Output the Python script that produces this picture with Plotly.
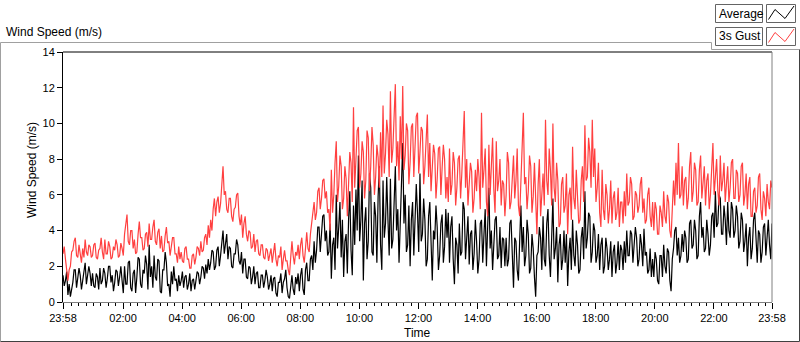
import plotly.graph_objects as go
import pandas as pd

# ---------------- data (2.5-minute samples) ----------------
start_time = "2024-01-01 23:58"
step = "150s"

average = [
    1.5, 0.9, 1.2, 1.7, 0.4, 1.0, 0.3, 0.7, 1.1, 1.8, 1.8, 0.8, 1.3, 1.9, 1.5, 0.7, 1.2, 1.8, 2.2, 1.0, 1.4, 2.0, 1.6, 0.9,
    1.6, 0.9, 0.8, 1.6, 1.4, 0.7, 1.9, 1.0, 1.2, 1.9, 1.6, 0.8, 1.3, 2.0, 2.0, 1.1, 1.5, 0.6, 1.1, 1.8, 1.7, 0.9, 1.4, 2.0,
    1.2, 0.5, 2.0, 1.0, 1.0, 2.2, 2.3, 0.8, 0.6, 1.6, 1.8, 0.5, 1.4, 2.5, 2.4, 1.0, 0.8, 1.8, 1.6, 2.6, 2.1, 0.7, 3.2, 1.4,
    2.0, 0.8, 2.6, 1.4, 1.2, 2.4, 2.3, 0.6, 0.5, 1.8, 1.8, 2.8, 2.2, 0.9, 1.0, 0.3, 1.7, 1.0, 2.0, 1.2, 1.3, 0.6, 1.5, 0.9,
    1.2, 1.7, 0.8, 1.4, 1.5, 0.7, 1.0, 1.6, 0.6, 1.2, 1.3, 0.7, 1.2, 1.7, 1.6, 1.0, 1.4, 2.0, 1.9, 1.3, 2.1, 1.6, 2.4, 1.8,
    2.2, 2.9, 2.8, 1.8, 2.0, 2.9, 3.1, 2.0, 2.6, 3.6, 4.0, 2.7, 3.3, 3.8, 2.4, 3.1, 3.0, 2.0, 1.9, 2.7, 2.7, 3.5, 3.2, 2.3,
    2.1, 2.8, 1.6, 2.4, 2.4, 1.4, 1.3, 2.0, 1.9, 1.0, 1.4, 2.0, 1.0, 1.6, 1.7, 0.8, 0.8, 1.5, 1.5, 0.8, 1.2, 1.8, 1.4, 0.7,
    1.0, 1.5, 0.6, 1.3, 1.4, 0.5, 0.3, 1.1, 1.1, 1.6, 0.5, 1.1, 1.3, 1.8, 0.8, 0.3, 0.2, 1.1, 1.5, 0.7, 0.4, 1.4, 1.0, 1.6,
    0.6, 1.5, 1.9, 0.7, 0.4, 1.8, 2.2, 1.2, 1.2, 2.4, 2.6, 1.8, 3.4, 2.2, 2.9, 4.2, 4.2, 2.8, 3.6, 4.8, 4.9, 3.4, 4.0, 2.6,
    2.8, 4.4, 1.3, 3.2, 3.6, 1.8, 6.0, 3.0, 4.2, 5.6, 2.5, 4.6, 1.4, 3.4, 3.8, 1.6, 4.6, 6.2, 2.9, 1.5, 5.4, 3.2, 6.3, 4.0,
    8.2, 3.4, 4.6, 6.8, 1.2, 4.4, 5.3, 2.4, 3.4, 7.2, 6.4, 2.8, 2.6, 5.6, 4.8, 2.2, 5.9, 7.6, 3.2, 1.8, 6.8, 3.6, 4.4, 7.0,
    4.6, 2.6, 6.9, 3.0, 3.5, 5.8, 7.6, 4.0, 5.2, 2.2, 4.1, 6.4, 8.9, 4.4, 6.0, 2.8, 3.2, 5.4, 2.0, 4.6, 5.6, 2.6, 4.3, 6.6,
    5.0, 2.8, 7.2, 3.4, 3.8, 5.8, 4.6, 2.0, 2.4, 4.8, 5.6, 2.6, 1.2, 4.0, 3.5, 5.4, 4.2, 1.8, 2.6, 4.4, 4.9, 2.2, 3.1, 5.2,
    3.6, 5.0, 2.2, 4.2, 4.8, 2.4, 1.0, 3.6, 3.2, 1.6, 4.4, 2.6, 2.8, 5.6, 5.2, 2.4, 3.6, 4.8, 2.1, 3.8, 4.0, 1.8, 2.7, 4.6,
    3.4, 1.6, 2.4, 4.4, 4.6, 2.2, 3.8, 5.2, 2.0, 4.0, 6.4, 3.0, 4.0, 1.8, 3.0, 4.6, 4.8, 2.4, 2.6, 4.2, 1.9, 3.6, 3.5, 2.0,
    3.6, 2.0, 2.4, 4.4, 4.6, 2.4, 0.8, 3.6, 3.4, 1.8, 1.2, 3.4, 5.4, 2.8, 4.2, 2.0, 2.6, 4.6, 3.8, 1.6, 1.9, 3.8, 3.0, 1.4,
    0.3, 2.6, 2.8, 4.2, 3.6, 1.8, 4.8, 2.4, 2.0, 4.4, 5.2, 2.6, 1.4, 3.6, 5.8, 2.4, 3.0, 4.2, 1.1, 3.2, 3.8, 1.8, 2.4, 4.0,
    2.2, 3.8, 0.9, 2.8, 3.6, 1.8, 4.6, 2.6, 2.0, 4.0, 3.2, 1.6, 1.8, 3.6, 4.2, 2.4, 6.2, 3.0, 3.6, 5.0, 4.8, 2.2, 2.8, 4.4,
    4.0, 2.2, 2.6, 3.8, 1.8, 3.2, 3.6, 1.6, 2.0, 3.6, 3.0, 1.8, 2.4, 3.4, 1.4, 2.8, 3.2, 1.6, 2.2, 3.4, 1.8, 3.2, 2.9, 1.8,
    3.4, 2.2, 4.0, 2.6, 2.6, 4.0, 3.8, 2.2, 3.0, 4.2, 3.6, 2.0, 2.4, 3.8, 3.2, 2.0, 4.1, 2.6, 2.8, 1.6, 1.8, 3.0, 1.4, 2.4,
    1.4, 2.8, 2.4, 1.2, 1.0, 2.6, 2.6, 1.4, 3.2, 2.0, 1.6, 3.0, 2.8, 1.2, 0.6, 2.4, 3.0, 4.0, 4.2, 2.6, 3.6, 2.2, 2.6, 3.8,
    2.8, 4.0, 3.6, 2.2, 2.4, 4.4, 4.6, 3.0, 3.2, 4.6, 4.0, 2.4, 2.6, 4.8, 5.6, 3.6, 4.2, 2.8, 3.0, 4.6, 3.8, 2.6, 3.2, 4.8,
    5.0, 3.6, 6.2, 4.2, 4.4, 6.0, 5.8, 3.8, 3.8, 5.4, 4.6, 3.2, 5.6, 4.0, 3.6, 5.6, 5.2, 3.6, 4.0, 5.4, 4.8, 3.0, 3.4, 5.0,
    4.6, 2.8, 3.4, 4.4, 2.0, 3.6, 4.2, 2.4, 3.0, 4.6, 5.0, 3.0, 2.2, 4.0, 3.8, 2.2, 2.8, 4.2, 4.4, 2.6, 3.6, 4.6, 3.2, 2.4,
    4.4,
]

gust = [
    2.7, 3.1, 2.4, 1.6, 1.2, 1.8, 2.0, 2.8, 2.9, 3.4, 3.6, 2.6, 2.5, 3.2, 2.8, 2.2, 3.0, 2.5, 3.5, 2.8, 2.6, 3.2, 3.1, 2.5,
    2.6, 3.2, 3.3, 2.5, 2.4, 2.9, 3.0, 3.6, 2.8, 2.4, 3.5, 2.7, 2.7, 3.4, 3.1, 2.4, 2.5, 3.1, 2.9, 3.5, 3.2, 2.5, 2.6, 3.3,
    3.0, 2.6, 3.8, 4.4, 4.9, 3.4, 3.2, 4.0, 4.0, 3.0, 3.5, 2.7, 2.8, 3.8, 4.5, 3.6, 3.6, 2.9, 3.0, 3.8, 3.9, 3.1, 4.4, 3.5,
    3.5, 4.2, 4.6, 3.4, 3.2, 3.9, 4.1, 3.0, 3.7, 2.8, 2.9, 3.7, 4.2, 3.3, 3.4, 2.6, 3.0, 3.6, 3.6, 2.7, 2.7, 2.2, 3.1, 2.4,
    2.8, 2.3, 2.2, 3.0, 3.1, 2.4, 2.4, 1.9, 1.9, 2.6, 2.7, 2.1, 2.5, 3.1, 3.0, 2.6, 3.4, 2.8, 2.9, 3.6, 3.8, 3.2, 4.3, 3.6,
    4.6, 4.0, 5.2, 5.8, 4.8, 5.6, 5.9, 5.0, 5.5, 6.8, 7.6, 6.0, 6.2, 5.2, 5.0, 5.8, 5.8, 4.8, 4.5, 5.2, 5.3, 6.0, 6.1, 4.8,
    4.3, 4.9, 3.6, 4.4, 4.8, 3.8, 3.4, 4.0, 3.9, 3.0, 3.1, 3.8, 2.8, 3.4, 3.5, 2.7, 2.6, 3.2, 3.2, 2.5, 2.4, 3.0, 2.9, 2.3,
    2.6, 3.0, 2.2, 2.7, 3.3, 2.4, 2.0, 2.6, 2.5, 3.1, 1.8, 2.4, 2.9, 2.3, 2.3, 1.8, 1.5, 2.5, 3.4, 2.6, 2.1, 2.8, 2.6, 3.2,
    2.4, 3.2, 3.6, 2.6, 2.2, 3.0, 3.9, 3.0, 2.8, 3.8, 4.4, 5.2, 5.6, 4.6, 5.0, 6.2, 6.4, 5.2, 5.8, 6.8, 6.9, 5.8, 6.2, 5.0,
    5.2, 4.0, 7.4, 5.0, 6.0, 7.8, 9.0, 5.6, 6.5, 8.2, 7.6, 5.2, 5.8, 7.6, 6.9, 4.8, 6.2, 8.4, 7.8, 5.6, 10.9, 6.4, 8.0, 9.6,
    9.8, 6.4, 7.2, 9.0, 8.4, 5.8, 6.8, 9.6, 9.2, 6.2, 7.6, 9.8, 8.8, 6.0, 7.0, 8.8, 8.1, 6.4, 9.5, 7.0, 11.0, 7.2, 8.3, 10.2,
    9.4, 7.0, 11.8, 7.8, 8.6, 10.6, 12.2, 7.6, 9.0, 6.8, 10.4, 8.0, 12.1, 7.4, 8.2, 10.0, 9.6, 6.6, 7.8, 9.8, 10.0, 7.0, 8.9, 10.4,
    10.6, 7.2, 8.4, 9.8, 9.6, 6.6, 7.6, 9.2, 10.5, 7.0, 8.9, 6.2, 7.2, 8.8, 8.3, 5.8, 6.9, 8.6, 8.7, 6.0, 7.5, 8.8, 8.0, 5.8,
    7.0, 5.6, 8.6, 6.0, 6.6, 8.4, 7.8, 5.4, 6.4, 8.0, 8.2, 5.8, 7.2, 9.0, 10.7, 6.4, 8.0, 5.4, 6.4, 7.8, 7.3, 5.0, 5.8, 7.4,
    6.2, 8.0, 7.0, 5.2, 10.6, 6.4, 7.4, 8.6, 5.6, 4.8, 8.8, 6.0, 7.6, 9.2, 6.3, 5.0, 9.0, 6.2, 6.8, 8.0, 5.4, 6.8, 6.6, 4.8,
    6.0, 8.4, 7.8, 5.2, 5.6, 7.4, 8.2, 5.8, 6.8, 8.6, 5.4, 4.8, 7.2, 9.0, 10.6, 6.6, 7.0, 5.2, 6.2, 8.2, 7.6, 5.0, 5.9, 7.8,
    5.2, 3.8, 6.6, 8.0, 4.8, 6.2, 7.2, 5.4, 10.2, 6.8, 6.0, 8.6, 7.4, 5.4, 10.0, 6.4, 5.6, 7.8, 6.8, 4.2, 4.4, 6.6, 7.0, 5.0,
    5.4, 7.2, 3.8, 6.0, 6.4, 4.6, 8.7, 5.8, 5.2, 7.4, 6.0, 4.4, 4.6, 6.8, 7.6, 5.6, 9.9, 6.8, 7.0, 9.2, 8.4, 6.4, 10.2, 7.0,
    8.6, 5.6, 6.4, 7.8, 5.0, 4.2, 7.4, 5.2, 4.6, 6.6, 6.0, 4.4, 5.2, 6.8, 4.4, 5.8, 6.2, 4.6, 5.0, 6.4, 4.2, 5.6, 5.6, 4.4,
    6.2, 4.8, 7.2, 5.4, 5.6, 7.0, 6.6, 4.6, 4.8, 6.2, 6.0, 5.0, 5.4, 6.6, 7.0, 5.0, 5.8, 4.4, 4.6, 6.0, 6.4, 4.8, 4.2, 5.6,
    4.0, 5.6, 5.2, 3.8, 3.8, 5.4, 5.0, 4.2, 6.2, 4.8, 4.4, 6.0, 5.6, 4.0, 3.6, 5.8, 6.8, 5.4, 7.8, 6.0, 8.9, 5.8, 6.0, 7.6,
    5.4, 6.8, 7.0, 5.2, 5.8, 7.6, 8.4, 5.6, 6.2, 7.8, 7.4, 5.4, 5.6, 7.4, 8.2, 5.8, 6.6, 7.6, 5.4, 6.8, 7.2, 5.2, 6.0, 7.6,
    8.9, 6.0, 7.0, 8.0, 6.2, 5.4, 8.2, 6.2, 6.8, 7.8, 5.6, 7.0, 7.6, 5.6, 6.4, 7.8, 8.0, 5.8, 5.8, 7.4, 7.2, 5.6, 6.0, 7.6,
    7.8, 5.4, 6.0, 7.2, 5.2, 6.6, 7.0, 4.8, 4.8, 6.2, 6.4, 5.0, 5.4, 7.0, 7.2, 5.2, 4.6, 6.2, 5.8, 4.8, 6.6, 5.6, 5.2, 6.8,
    6.4,
]

major_tick_times = [
    "2024-01-01 23:58", "2024-01-02 02:00", "2024-01-02 04:00", "2024-01-02 06:00",
    "2024-01-02 08:00", "2024-01-02 10:00", "2024-01-02 12:00", "2024-01-02 14:00",
    "2024-01-02 16:00", "2024-01-02 18:00", "2024-01-02 20:00", "2024-01-02 22:00",
    "2024-01-02 23:58",
]
major_tick_labels = [
    "23:58", "02:00", "04:00", "06:00", "08:00", "10:00", "12:00",
    "14:00", "16:00", "18:00", "20:00", "22:00", "23:58",
]
y_tick_values = [0, 2, 4, 6, 8, 10, 12, 14]

# ---------------- figure ----------------
FONT = "Liberation Sans, Arial, sans-serif"
W, H = 800, 342
PL, PT, PW, PH = 63, 52, 709, 250


def px(x):
    return (x - PL) / PW


def py(y):
    return (PT + PH - y) / PH


times_avg = pd.date_range(start_time, periods=len(average), freq=step)
times_gust = pd.date_range(start_time, periods=len(gust), freq=step)
x_start = pd.Timestamp("2024-01-01 23:58")
x_end = pd.Timestamp("2024-01-02 23:58")
minor_ticks = pd.date_range("2024-01-02 00:15", "2024-01-02 23:45", freq="15min")

fig = go.Figure()
fig.add_trace(go.Scatter(x=times_avg, y=average, mode="lines", name="Average",
                         line=dict(color="#000000", width=1.2), showlegend=False))
fig.add_trace(go.Scatter(x=times_gust, y=gust, mode="lines", name="3s Gust",
                         line=dict(color="#ff4040", width=1.2), showlegend=False))

fig.update_layout(
    width=W, height=H,
    margin=dict(l=PL, r=W - PL - PW, t=PT, b=H - PT - PH, pad=0),
    paper_bgcolor="white", plot_bgcolor="white",
    font=dict(family=FONT, size=11, color="#000000"),
    showlegend=False,
    xaxis=dict(
        type="date", range=[x_start, x_end],
        tickmode="array", tickvals=major_tick_times, ticktext=major_tick_labels,
        ticks="outside", ticklen=6, tickwidth=1, tickcolor="#000000",
        showline=True, linecolor="#808080", linewidth=1,
        showgrid=False, zeroline=False,
        tickfont=dict(family=FONT, size=11, color="#000000"),
        minor=dict(tickmode="array", tickvals=list(minor_ticks), ticks="outside",
                   ticklen=3, tickwidth=1, tickcolor="#000000", showgrid=False),
    ),
    yaxis=dict(
        range=[0, 14], tickmode="array", tickvals=y_tick_values,
        ticks="outside", ticklen=5, tickwidth=1, tickcolor="#000000",
        showline=True, linecolor="#000000", linewidth=1,
        showgrid=False, zeroline=False,
        tickfont=dict(family=FONT, size=11, color="#000000"),
    ),
)

shapes = []
# plot box top (black) and right (gray)
shapes.append(dict(type="line", xref="paper", yref="paper", x0=0, x1=1, y0=1, y1=1,
                   line=dict(color="#000000", width=1)))
shapes.append(dict(type="line", xref="paper", yref="paper", x0=1, x1=1, y0=0, y1=1,
                   line=dict(color="#808080", width=1)))
# outer frame
gray = "#a0a0a0"
dark = "#404040"
shapes += [
    dict(type="line", xref="paper", yref="paper", x0=px(0.5), x1=px(711.5), y0=py(42.5), y1=py(42.5),
         line=dict(color=gray, width=1)),
    dict(type="line", xref="paper", yref="paper", x0=px(711.5), x1=px(711.5), y0=py(42.5), y1=py(49.5),
         line=dict(color=gray, width=1)),
    dict(type="line", xref="paper", yref="paper", x0=px(711.5), x1=px(799.5), y0=py(49.5), y1=py(49.5),
         line=dict(color=gray, width=1)),
    dict(type="line", xref="paper", yref="paper", x0=px(0.5), x1=px(0.5), y0=py(42.5), y1=py(341.5),
         line=dict(color=gray, width=1)),
    dict(type="line", xref="paper", yref="paper", x0=px(0.5), x1=px(799.5), y0=py(341.5), y1=py(341.5),
         line=dict(color=dark, width=1)),
    dict(type="line", xref="paper", yref="paper", x0=px(799.5), x1=px(799.5), y0=py(49.5), y1=py(341.5),
         line=dict(color=dark, width=1)),
]
# legend boxes
for (top, bottom) in [(4.5, 22.5), (27.5, 45.5)]:
    for (left, right) in [(715.5, 762.5), (766.5, 795.5)]:
        shapes.append(dict(type="rect", xref="paper", yref="paper",
                           x0=px(left), x1=px(right), y0=py(bottom), y1=py(top),
                           line=dict(color="#646464", width=1), fillcolor="white"))


def zigzag(points):
    return "M " + " L ".join(f"{px(a):.5f},{py(b):.5f}" for a, b in points)


shapes.append(dict(type="path", xref="paper", yref="paper",
                   path=zigzag([(768.5, 19.5), (775, 9.5), (785, 18.5), (794, 6)]),
                   line=dict(color="#000000", width=1)))
shapes.append(dict(type="path", xref="paper", yref="paper",
                   path=zigzag([(768.5, 42.5), (775, 32.5), (785, 41.5), (794, 29)]),
                   line=dict(color="#ff4040", width=1)))
fig.update_layout(shapes=shapes)

ann = [
    dict(text="Wind Speed (m/s)", x=px(4), y=py(32), xanchor="left", yanchor="middle",
         font=dict(family=FONT, size=12, color="#000000")),
    dict(text="Wind Speed (m/s)", x=px(32), y=py(170), xanchor="center", yanchor="middle",
         textangle=-90, font=dict(family=FONT, size=12, color="#000000")),
    dict(text="Time", x=px(417), y=py(333), xanchor="center", yanchor="middle",
         font=dict(family=FONT, size=12, color="#000000")),
    dict(text="Average", x=px(717), y=py(13.5), xanchor="left", yanchor="middle",
         font=dict(family=FONT, size=12, color="#000000")),
    dict(text="3s Gust", x=px(717), y=py(36.5), xanchor="left", yanchor="middle",
         font=dict(family=FONT, size=12, color="#000000")),
]
for a in ann:
    a.update(xref="paper", yref="paper", showarrow=False)
fig.update_layout(annotations=ann)

fig.write_html(
    "out.html",
    config={"displayModeBar": False},
    post_script="document.body.style.margin='0';document.body.style.overflow='hidden';",
)
